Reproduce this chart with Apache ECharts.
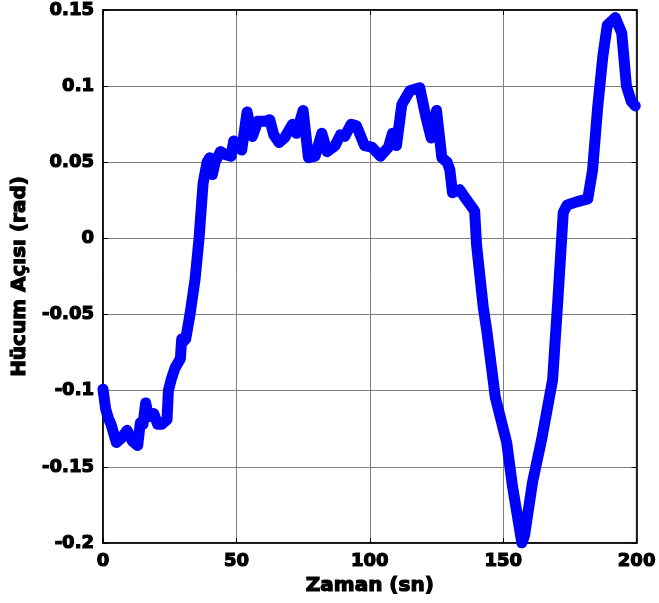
<!DOCTYPE html>
<html>
<head>
<meta charset="utf-8">
<script src="https://cdn.jsdelivr.net/npm/echarts@6/dist/echarts.min.js"></script>
<style>
  html, body { margin: 0; padding: 0; background: #fff; }
  #main { width: 659px; height: 603px; }
</style>
</head>
<body>
<div id="main"></div>
<script>
// zaman (sn)
var zaman = [0, 1, 2, 3, 5, 7, 9, 11, 13, 14, 15, 16, 17, 19, 20.5, 22, 24, 24.5, 25.5, 27, 29, 29.5, 30, 31,
  32.6, 34.5, 36, 37.5, 39, 40, 41, 42, 44, 46, 48, 49, 52, 54, 56, 58, 61, 62.5, 64, 66, 68, 71, 72.5, 75,
  77, 79.5, 82, 84, 87, 89, 90.6, 93, 95, 98, 100.7, 104, 107, 108.5, 110, 112, 115, 118.7, 121, 123, 125,
  127, 129, 130, 131, 133.7, 136, 139.3, 140, 142.5, 143.8, 146, 147, 151.3, 153.5, 157, 158, 161, 164.4,
  168.5, 170.5, 172.5, 174, 177.5, 181.7, 183.5, 185.4, 187.3, 189, 192, 194.4, 196.2, 198, 199.5];
// hucum acisi (rad)
var aci = [-0.099, -0.112, -0.118, -0.122, -0.134, -0.131, -0.126, -0.133, -0.136, -0.121, -0.122, -0.108, -0.117, -0.115, -0.122, -0.122, -0.119, -0.1, -0.093, -0.085, -0.079, -0.066, -0.068, -0.066,
  -0.05, -0.027, 0, 0.036, 0.05, 0.053, 0.042, 0.05, 0.057, 0.055, 0.054, 0.064, 0.058, 0.083, 0.067, 0.077, 0.077, 0.078, 0.068, 0.063, 0.066, 0.075, 0.069, 0.084,
  0.053, 0.054, 0.069, 0.057, 0.061, 0.068, 0.067, 0.075, 0.074, 0.061, 0.06, 0.054, 0.06, 0.069, 0.061, 0.088, 0.097, 0.099, 0.08, 0.066, 0.084,
  0.053, 0.05, 0.045, 0.03, 0.032, 0.026, 0.018, -0.004, -0.045, -0.06, -0.09, -0.104, -0.134, -0.163, -0.2, -0.195, -0.16, -0.132,
  -0.093, -0.04, 0.017, 0.022, 0.024, 0.026, 0.045, 0.086, 0.119, 0.14, 0.145, 0.135, 0.1, 0.09, 0.087];
var xTicks = [0, 50, 100, 150, 200];
var yTicks = [-0.2, -0.15, -0.1, -0.05, 0, 0.05, 0.1, 0.15];

var myChart = echarts.init(document.getElementById('main'), null, { renderer: 'canvas' });
var fontFam = '"DejaVu Sans", sans-serif';

var veri = zaman.map(function (t, i) { return [t, aci[i]]; });

// kalin, MATLAB benzeri yazilar
var etiket = {
  color: '#000',
  fontSize: 18,
  fontWeight: 'bold',
  fontFamily: fontFam,
  textBorderColor: '#000',
  textBorderWidth: 1.2
};
var isimStil = {
  color: '#000', fontSize: 20, fontWeight: 'bold', fontFamily: fontFam,
  textBorderColor: '#000', textBorderWidth: 1.2
};
var cizgi = { show: true, onZero: false, lineStyle: { color: '#000', width: 1.5 } };
var tik = { show: true, inside: true, length: 5, lineStyle: { color: '#000' } };

var option = {
  animation: false,
  backgroundColor: '#fff',
  grid: {
    left: 103, right: 22, top: 10, bottom: 60,
    show: true, borderColor: '#000', borderWidth: 1.5
  },
  xAxis: [{
    type: 'value', min: xTicks[0], max: xTicks[xTicks.length - 1], interval: 50,
    name: 'Zaman (sn)', nameLocation: 'middle', nameGap: 27,
    nameTextStyle: isimStil,
    axisLine: cizgi,
    axisTick: tik,
    axisLabel: Object.assign({ margin: 9 }, etiket),
    splitLine: { show: true, lineStyle: { color: '#808080', width: 1 } }
  }, {
    type: 'value', position: 'top', min: 0, max: 200, interval: 50,
    axisLine: cizgi, axisTick: tik,
    axisLabel: { show: false }, splitLine: { show: false }
  }],
  yAxis: [{
    type: 'value', min: yTicks[0], max: yTicks[yTicks.length - 1], interval: 0.05,
    name: 'Hücum Açısı (rad)', nameLocation: 'middle', nameGap: 68,
    nameTextStyle: isimStil,
    axisLine: cizgi,
    axisTick: tik,
    axisLabel: Object.assign({
      margin: 9,
      formatter: function (v) { return String(Math.round(v * 100) / 100); }
    }, etiket),
    splitLine: { show: true, lineStyle: { color: '#808080', width: 1 } }
  }, {
    type: 'value', position: 'right', min: -0.2, max: 0.15, interval: 0.05,
    axisLine: cizgi, axisTick: tik,
    axisLabel: { show: false }, splitLine: { show: false }
  }],
  series: [{
    type: 'line',
    data: veri,
    showSymbol: false,
    symbol: 'none',
    clip: true,
    lineStyle: { color: '#0000FF', width: 11, join: 'round', cap: 'round' }
  }]
};
myChart.setOption(option);
</script>
</body>
</html>
